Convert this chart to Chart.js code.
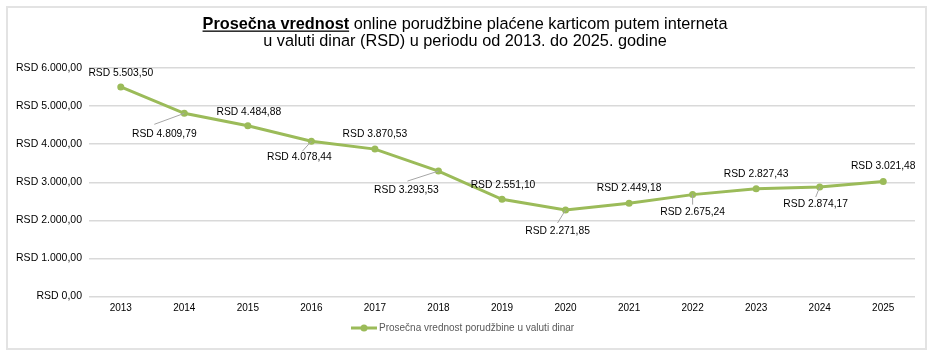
<!DOCTYPE html>
<html>
<head>
<meta charset="utf-8">
<script src="https://cdn.jsdelivr.net/npm/chart.js@4.4.1/dist/chart.umd.min.js"></script>
<style>
  html, body { margin: 0; padding: 0; background: #fff; }
  #wrap { position: relative; width: 936px; height: 358px; }
  #frame { position: absolute; left: 6px; top: 6px; width: 917px; height: 340px; border: 2px solid #e3e3e3; }
  canvas { position: absolute; left: 0; top: 0; }
</style>
</head>
<body>
<div id="wrap">
  <div id="frame"></div>
  <canvas id="avgChart" width="936" height="358"></canvas>
</div>
<script>
const years = ['2013', '2014', '2015', '2016', '2017', '2018', '2019', '2020', '2021', '2022', '2023', '2024', '2025'];
const avgOrderValue = [5503.50, 4809.79, 4484.88, 4078.44, 3870.53, 3293.53, 2551.10, 2271.85, 2449.18, 2675.24, 2827.43, 2874.17, 3021.48];
const yMin = 0;
const yMax = 6000;
const yStep = 1000;
const seriesName = 'Prosečna vrednost porudžbine u valuti dinar';
const titleBold = 'Prosečna vrednost';
const titleRest = ' online porudžbine plaćene karticom putem interneta';
const titleLine2 = 'u valuti dinar (RSD) u periodu od 2013. do 2025. godine';

const FONT = '"Liberation Sans", Arial, sans-serif';
const GREEN = '#9bbb59';

// RSD 1.234,56
const fmtRsd = (v) => {
    const parts = v.toFixed(2).split('.');
    const intPart = parts[0].replace(/\B(?=(\d{3})+(?!\d))/g, '.');
    return 'RSD ' + intPart + ',' + parts[1];
};

// label placement relative to each point: [dx, dy, leaderX, leaderY] (leader null = none)
const labelPlacement = [
    [0, -14, null, null],
    [-20, 21, -30, 11],
    [1, -14, null, null],
    [-12, 16, -9, 10],
    [0, -15, null, null],
    [-32, 19, -31, 10],
    [1, -14, null, null],
    [-8, 21, -8, 13],
    [0, -15, null, null],
    [0, 18, 0, 10],
    [0, -15, null, null],
    [-4, 17, -4, 10],
    [0, -15, null, null]
];

const extrasPlugin = {
    id: 'extras',
    afterDatasetsDraw(chart) {
        const ctx = chart.ctx;
        const meta = chart.getDatasetMeta(0);
        ctx.save();
        ctx.font = '10.3px ' + FONT;
        ctx.textAlign = 'center';
        ctx.textBaseline = 'middle';
        meta.data.forEach((pt, i) => {
            const p = labelPlacement[i];
            if (p[2] !== null) {
                ctx.strokeStyle = '#a6a6a6';
                ctx.lineWidth = 1;
                ctx.beginPath();
                ctx.moveTo(pt.x + p[2], pt.y + p[3]);
                ctx.lineTo(pt.x, pt.y);
                ctx.stroke();
            }
            ctx.fillStyle = '#000';
            ctx.fillText(fmtRsd(chart.data.datasets[0].data[i]), pt.x + p[0], pt.y + p[1]);
        });
        ctx.restore();
    },
    afterDraw(chart) {
        const ctx = chart.ctx;
        ctx.save();
        // title
        const cx = 465;
        const tSize = '16.3px ';
        ctx.fillStyle = '#000';
        ctx.textBaseline = 'alphabetic';
        ctx.font = 'bold ' + tSize + FONT;
        const wb = ctx.measureText(titleBold).width;
        ctx.font = tSize + FONT;
        const wr = ctx.measureText(titleRest).width;
        const x0 = cx - (wb + wr) / 2;
        ctx.textAlign = 'left';
        ctx.font = 'bold ' + tSize + FONT;
        ctx.fillText(titleBold, x0, 28.5);
        ctx.fillRect(x0, 30.5, wb, 1.3);
        ctx.font = tSize + FONT;
        ctx.fillText(titleRest, x0 + wb, 28.5);
        ctx.textAlign = 'center';
        ctx.fillText(titleLine2, cx, 46);

        // legend
        ctx.strokeStyle = GREEN;
        ctx.lineWidth = 3;
        ctx.beginPath();
        ctx.moveTo(351, 328);
        ctx.lineTo(377, 328);
        ctx.stroke();
        ctx.fillStyle = GREEN;
        ctx.beginPath();
        ctx.arc(364, 328, 3.5, 0, Math.PI * 2);
        ctx.fill();
        ctx.fillStyle = '#595959';
        ctx.font = '10px ' + FONT;
        ctx.textAlign = 'left';
        ctx.textBaseline = 'middle';
        ctx.fillText(seriesName, 379, 328);
        ctx.restore();
    }
};

new Chart(document.getElementById('avgChart'), {
    type: 'line',
    data: {
        labels: years,
        datasets: [{
            label: seriesName,
            data: avgOrderValue,
            borderColor: GREEN,
            backgroundColor: GREEN,
            borderWidth: 3,
            pointRadius: 3.5,
            pointHoverRadius: 3.5,
            pointBorderWidth: 0,
            tension: 0
        }]
    },
    options: {
        responsive: false,
        animation: false,
        layout: { padding: { top: 68, right: 21, bottom: 0, left: 0 } },
        plugins: {
            legend: { display: false },
            title: { display: false },
            tooltip: { enabled: false }
        },
        scales: {
            x: {
                offset: true,
                grid: { display: false, drawTicks: false },
                border: { display: false },
                ticks: { color: '#000', font: { family: FONT, size: 10 }, padding: 6, maxRotation: 0 },
                afterFit: (scale) => { scale.height = 61.5; }
            },
            y: {
                min: yMin,
                max: yMax,
                grid: { color: '#d9d9d9', lineWidth: 1.5, drawTicks: false },
                border: { display: false },
                ticks: {
                    stepSize: yStep,
                    color: '#000',
                    padding: 7,
                    font: { family: FONT, size: 10.5 },
                    callback: (v) => fmtRsd(v)
                },
                afterFit: (scale) => { scale.width = 89; }
            }
        }
    },
    plugins: [extrasPlugin]
});
</script>
</body>
</html>
